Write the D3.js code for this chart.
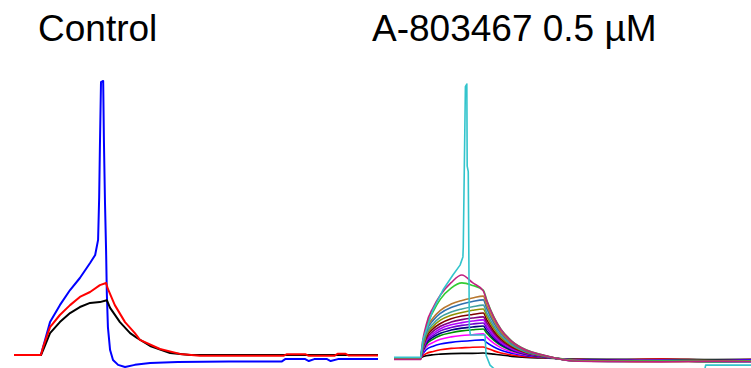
<!DOCTYPE html>
<html>
<head>
    <meta charset="utf-8">
    <style type="text/css">
        body { margin: 0; background: #fff; }
        svg { display: block; }
        text { font-family: "Liberation Sans", Arial, Helvetica, sans-serif; font-size: 37px; fill: #000; }
        path.trace { fill: none; stroke-linejoin: round; }
    </style>
</head>
<body>
<div id="chart"></div>
<script src="https://cdn.jsdelivr.net/npm/d3@7"></script>
<script type="text/javascript">
// panel titles
var panelTitles = ["Control", "A-803467 0.5 \u00b5M"];

// Control sweeps: [time ms, current (a.u.)]
var controlBlack = [[0,0],[7.4,0],[8.0,1.8],[9.9,8],[12.6,12],[15.4,15.3],[18.1,17.5],[20.9,19],[23.6,19.3],[25.5,20],[26.4,17.2],[29.1,12],[31.9,8],[33.8,6.2],[37.4,3.3],[42.9,0.7],[48.4,0],[100,0]];
var controlRed = [[0,0],[7.4,0],[8.0,2.9],[9.9,10.2],[12.6,14.6],[15.4,18.2],[18.1,21.2],[20.9,23],[23.6,25.5],[25.3,26.3],[25.8,24.1],[27.7,18.2],[30.5,12],[33.2,8],[34.6,5.5],[40.1,2.2],[45.6,0.4],[51.1,-0.3],[74,-0.3],[75,0.3],[80,0.3],[81,-0.3],[88,-0.3],[89,0.5],[91,0.5],[92,-0.2],[100,-0.2]];
var controlBlue = [[0,0],[7.4,0],[8.0,2.9],[9.9,12],[12.6,18.2],[15.4,23.7],[18.1,28.1],[20.9,33.6],[22.3,36.5],[23.1,42],[23.4,57.7],[23.6,75.9],[23.9,99.6],[24.5,100],[24.7,78.5],[25.0,55.5],[25.3,38],[25.5,22.6],[25.8,10.2],[26.4,1.8],[27.2,-1.8],[28.6,-3.6],[30.5,-4.4],[33.2,-3.6],[37.4,-2.9],[45,-2.6],[59,-2.4],[73.5,-2.4],[74.5,-1.5],[80,-1.5],[81,-2.2],[82.5,-1.5],[86,-1.5],[87,-2.2],[89,-1.5],[100,-1.5]];

// A-803467 sweeps share one time base
var drugTimes = [0, 7.5, 7.6, 9, 11, 13, 16, 19, 22, 25, 26, 28, 30, 33, 37, 42, 50, 60, 75, 90, 100];
var drugSweeps = [
    [0,0,0.1,0.8,1.2,1.4,1.6,1.7,1.7,1.8,1.7,1.4,1.1,0.6,0.2,0,-0.4,-0.5,-0.4,-0.6,-0.5],
    [0,0,0.2,1.6,2.4,3.0,3.5,3.7,3.9,4.0,3.6,2.6,1.8,1.1,0.5,0.2,-0.5,-0.7,-0.4,-0.8,-0.6],
    [0,0,0.3,3.0,4.3,5.1,5.7,6.1,6.4,6.6,5.6,4.0,2.8,1.7,0.8,0.3,-0.6,-0.8,-0.7,-0.9,-0.7],
    [0,0,0.4,4.0,5.7,6.8,7.7,8.2,8.5,8.8,7.5,5.3,3.7,2.2,1.1,0.4,-0.7,-0.9,-0.8,-1.0,-0.9],
    [0,0,0.5,4.8,6.9,8.2,9.2,9.9,10.3,10.6,9.0,6.4,4.5,2.7,1.3,0.4,-0.6,-1.0,-0.9,-0.8,-1.1],
    [0,0,0.6,5.3,7.6,9.0,10.2,10.9,11.3,11.7,9.9,7.0,4.9,2.9,1.4,0.5,-0.7,-0.8,-1.1,-0.9,-1.0],
    [0,0,0.6,5.8,8.3,9.9,11.1,11.9,12.4,12.8,10.9,7.7,5.4,3.2,1.5,0.5,-0.8,-1.1,-0.9,-1.2,-1.0],
    [0,0,0.7,6.3,9.0,10.7,12.1,12.9,13.5,13.9,11.8,8.3,5.8,3.5,1.7,0.6,-0.7,-1.0,-1.2,-1.0,-1.1],
    [0,0,0.8,6.8,9.8,11.6,13.1,14.0,14.6,15.0,12.8,9.0,6.3,3.8,1.8,0.6,-0.9,-1.2,-1.0,-1.3,-1.2],
    [-0.4,-0.4,0.8,7.4,10.7,12.6,14.3,15.3,15.9,16.4,13.9,9.8,6.9,4.1,2.0,0.7,-1.0,-1.3,-1.2,-1.4,-1.3],
    [0,0,0.9,8.1,11.6,13.8,15.6,16.6,17.4,17.9,15.2,10.7,7.5,4.5,2.1,0.7,-0.8,-1.1,-1.3,-1.2,-1.0],
    [0,0,1.0,8.7,12.5,14.9,16.8,17.9,18.7,19.3,16.4,11.6,8.1,4.8,2.3,0.8,-0.9,-1.2,-1.0,-1.4,-1.2],
    [0,0,1.1,9.5,13.8,16.3,18.4,19.7,20.6,21.2,18.0,12.7,8.9,5.3,2.5,0.8,-1.0,-1.3,-1.1,-1.2,-1.4],
    [0,0,1.1,10.2,14.7,17.4,19.7,21.0,21.9,22.6,19.2,13.6,9.5,5.7,2.7,0.9,-0.9,-1.1,-1.3,-1.1,-1.2],
    [0,0,1.2,11,17,21.5,25.5,27.4,26.5,24.8,21.1,14.9,10.4,6.2,3.0,1.0,-1.0,-1.2,-1.1,-1.3,-1.0],
    [-0.5,-0.5,1.3,12,18.5,23,27.5,30.3,27.5,24.5,20.8,14.7,10.3,6.1,2.9,1.0,-1.1,-1.3,-1.4,-1.2,-1.3]
];
var drugColors = ["#000000","#ff0000","#0000ff","#ff00ff","#009000","#000080","#7000d0","#b000ff","#800080","#800000","#909000","#40a0a0","#3070b0","#b87830","#33cc33","#c02080"];
// spiking sweep
var drugCyan = [[0,0.3],[7.5,0.3],[8.1,6.6],[10.9,17.5],[13.7,24.8],[16.5,30.3],[18.5,33.9],[19.3,36.9],[19.4,40.5],[19.6,60],[20.0,99],[20.4,100],[20.5,70],[20.8,68],[21.1,11.3],[21.4,8.4],[25.5,8.4],[25.8,1],[26.9,-2.6],[28.6,-4.6],[87,-4.6],[87.3,-2.6],[100,-2.6]];

(function () {
    var width = 751, height = 368;

    var svg = d3.select('#chart').append('svg')
        .attr('width', width)
        .attr('height', height);

    var xLeft = d3.scaleLinear().domain([0, 100]).range([14, 378]);
    var yLeft = d3.scaleLinear().domain([0, 100]).range([355, 81]);
    var xRight = d3.scaleLinear().domain([0, 100]).range([394, 751]);
    var yRight = d3.scaleLinear().domain([0, 100]).range([358, 84]);

    svg.append('text').attr('x', 38).attr('y', 41).text(panelTitles[0]);
    svg.append('text').attr('x', 372).attr('y', 41).text(panelTitles[1]);

    var leftLine = d3.line()
        .x(function (d) { return xLeft(d[0]); })
        .y(function (d) { return yLeft(d[1]); });

    var left = svg.append('g');
    [[controlBlue, '#0000ff'], [controlBlack, '#000000'], [controlRed, '#ff0000']].forEach(function (s) {
        left.append('path')
            .attr('class', 'trace')
            .attr('d', leftLine(s[0]))
            .attr('stroke', s[1])
            .attr('stroke-width', 2);
    });

    var sweepLine = d3.line()
        .curve(d3.curveMonotoneX)
        .x(function (d, i) { return xRight(drugTimes[i]); })
        .y(function (d) { return yRight(d); });

    var right = svg.append('g');
    right.selectAll('path.sweep')
        .data(drugSweeps)
        .enter().append('path')
        .attr('class', 'trace sweep')
        .attr('d', function (d) { return sweepLine(d); })
        .attr('stroke', function (d, i) { return drugColors[i]; })
        .attr('stroke-width', 1.6);

    var cyanLine = d3.line()
        .x(function (d) { return xRight(d[0]); })
        .y(function (d) { return yRight(d[1]); });

    right.append('path')
        .attr('class', 'trace')
        .attr('d', cyanLine(drugCyan))
        .attr('stroke', '#33c4cc')
        .attr('stroke-width', 1.6);
})();
</script>
</body>
</html>
